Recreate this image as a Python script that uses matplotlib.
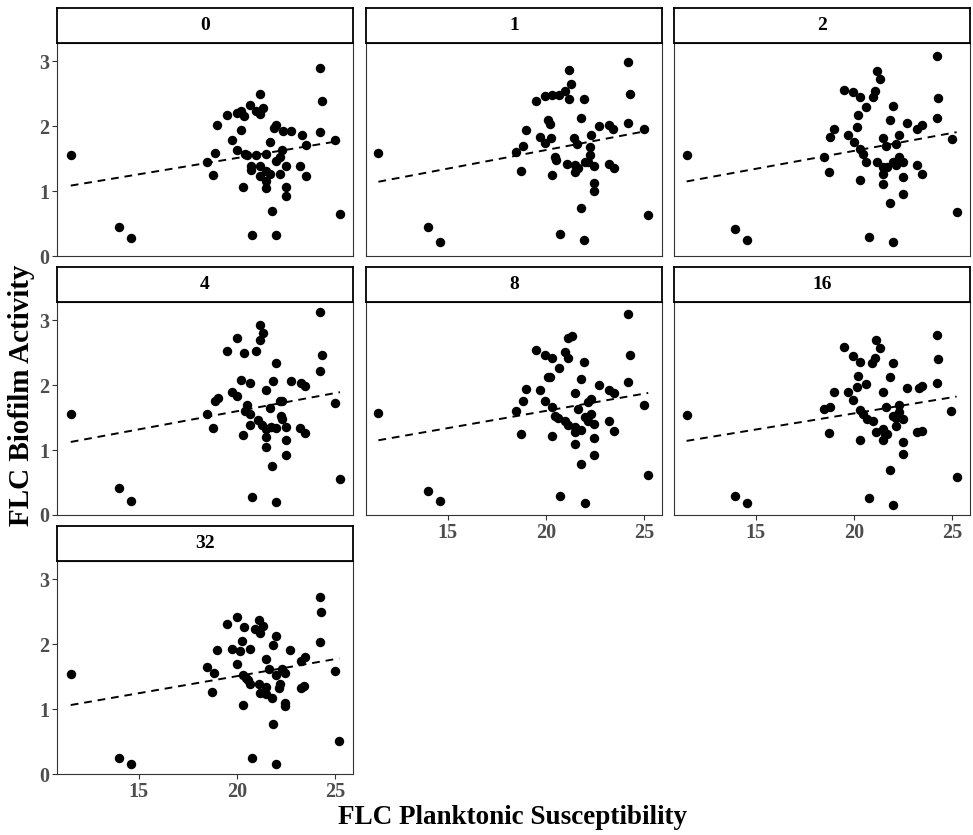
import numpy as np
import matplotlib.pyplot as plt

plt.rcParams['font.family'] = ['Liberation Serif', 'DejaVu Serif']
plt.rcParams['font.weight'] = 'bold'

# facet labels (FLC concentration)
panels = ['0', '1', '2', '4', '8', '16', '32']

# planktonic susceptibility (x) and biofilm activity (y) per facet
x0 = [11.55, 14.02, 14.61, 18.50, 18.77, 18.86, 19.01, 19.51, 19.77, 20.02, 20.19, 20.35, 20.19, 20.02,
      20.32, 20.40, 20.52, 20.66, 20.69, 20.69, 20.78, 20.99, 21.16, 20.99, 21.16, 21.33, 21.16, 21.16,
      21.50, 21.47, 21.47, 21.47, 21.67, 21.70, 21.80, 21.87, 21.97, 22.00, 21.97, 22.17, 22.17, 22.29,
      22.34, 22.76, 22.48, 22.48, 22.48, 23.23, 23.30, 23.49, 23.49, 24.23, 24.31, 24.23, 24.98, 25.24]
y0 = [1.55, 0.45, 0.28, 1.45, 1.24, 1.58, 2.02, 2.17, 1.78, 2.20, 2.23, 2.15, 1.94, 1.63,
      1.06, 1.57, 1.56, 2.32, 1.39, 1.33, 0.33, 1.55, 2.50, 2.24, 2.19, 2.28, 1.38, 1.23,
      1.57, 1.31, 1.16, 1.05, 1.76, 1.27, 0.69, 1.97, 2.02, 1.47, 0.32, 1.27, 1.52, 1.63,
      1.92, 1.93, 1.38, 1.07, 0.92, 1.38, 1.87, 1.71, 1.23, 2.90, 2.39, 1.91, 1.78, 0.65]

x1 = [11.48, 13.99, 14.60, 18.47, 18.71, 18.81, 18.98, 19.47, 19.72, 19.96, 19.97, 20.11, 20.19,
      20.31, 20.28, 20.31, 20.45, 20.53, 20.65, 20.73, 20.95, 21.16, 21.16, 21.29, 21.09, 21.41,
      21.46, 21.46, 21.59, 21.63, 21.80, 21.80, 21.93, 21.93, 21.96, 22.13, 22.22, 22.25, 22.30,
      22.44, 22.44, 22.44, 22.72, 23.23, 23.40, 23.23, 23.48, 24.19, 24.27, 24.19, 24.97, 25.20]
y1 = [1.58, 0.44, 0.22, 1.60, 1.31, 1.69, 1.94, 2.39, 1.84, 2.46, 1.74, 2.09, 2.03,
      2.48, 1.82, 1.24, 1.52, 1.48, 2.48, 0.34, 2.54, 2.87, 2.41, 2.65, 1.42, 1.82,
      1.40, 1.29, 1.72, 1.35, 2.12, 0.74, 2.41, 0.24, 1.45, 1.44, 1.68, 1.56, 1.86,
      1.39, 1.12, 1.00, 2.00, 2.01, 1.95, 1.42, 1.35, 2.99, 2.50, 2.05, 1.95, 0.63]

x2 = [11.49, 13.97, 14.58, 18.50, 18.73, 18.78, 18.97, 19.48, 19.71, 19.97, 19.98, 20.30, 20.19,
      20.14, 20.32, 20.30, 20.47, 20.63, 20.61, 20.74, 20.96, 21.06, 21.15, 21.32, 21.15, 21.49,
      21.49, 21.49, 21.49, 21.62, 21.67, 21.82, 21.82, 21.96, 21.96, 21.96, 22.16, 22.16, 22.30,
      22.30, 22.47, 22.47, 22.47, 22.72, 23.23, 23.48, 23.23, 23.48, 24.24, 24.29, 24.24, 25.00, 25.22]
y2 = [1.56, 0.42, 0.24, 1.53, 1.29, 1.83, 1.95, 2.56, 1.87, 2.53, 1.75, 2.45, 2.17,
      1.98, 1.17, 1.65, 1.57, 2.29, 1.45, 0.29, 2.45, 2.54, 2.85, 2.72, 1.44, 1.82,
      1.37, 1.27, 1.11, 1.69, 1.37, 2.09, 0.81, 2.31, 0.21, 1.44, 1.72, 1.40, 1.86,
      1.53, 1.44, 1.22, 0.96, 2.05, 1.95, 2.01, 1.40, 1.26, 3.08, 2.44, 2.13, 1.80, 0.68]

x4 = [11.55, 14.02, 14.61, 18.50, 18.77, 18.86, 19.02, 19.51, 19.73, 19.98, 20.02, 20.20, 20.35,
      20.32, 20.49, 20.66, 20.40, 20.66, 20.66, 20.74, 20.99, 21.16, 21.33, 21.16, 21.08, 21.25,
      21.50, 21.50, 21.50, 21.50, 21.67, 21.84, 21.80, 21.97, 21.97, 22.00, 21.75, 22.17, 22.29,
      22.22, 22.29, 22.48, 22.48, 22.48, 22.76, 23.27, 23.47, 23.23, 23.47, 24.23, 24.31, 24.23, 24.98, 25.24]
y4 = [1.55, 0.42, 0.21, 1.56, 1.34, 1.75, 1.80, 2.53, 1.89, 1.84, 2.72, 2.08, 2.50,
      1.23, 1.69, 2.04, 1.60, 1.56, 1.39, 0.28, 2.53, 2.92, 2.80, 2.69, 1.47, 1.39,
      1.93, 1.33, 1.20, 1.05, 1.65, 2.07, 0.75, 2.34, 0.20, 1.34, 1.35, 1.75, 1.75,
      1.53, 1.48, 1.36, 1.16, 0.93, 2.06, 2.03, 1.98, 1.34, 1.26, 3.12, 2.46, 2.21, 1.73, 0.55]

x8 = [11.48, 13.99, 14.60, 18.47, 18.71, 18.81, 18.98, 19.47, 19.72, 19.96, 19.97, 20.08, 20.22,
      20.31, 20.31, 20.31, 20.45, 20.65, 20.60, 20.73, 20.95, 21.12, 21.12, 21.32, 20.99, 21.12,
      21.46, 21.46, 21.46, 21.46, 21.63, 21.76, 21.80, 21.80, 21.93, 21.96, 21.96, 22.13, 22.30,
      22.13, 22.30, 22.44, 22.44, 22.44, 22.72, 23.23, 23.48, 23.23, 23.48, 24.19, 24.27, 24.19, 24.97, 25.20]
y8 = [1.57, 0.37, 0.22, 1.60, 1.25, 1.75, 1.94, 2.54, 1.92, 2.46, 1.75, 2.13, 2.12,
      2.41, 1.66, 1.21, 1.53, 2.26, 1.49, 0.29, 2.51, 2.41, 2.73, 2.75, 1.44, 1.38,
      1.88, 1.36, 1.28, 1.10, 1.63, 1.31, 2.09, 0.78, 2.35, 0.19, 1.51, 1.74, 1.79,
      1.45, 1.56, 1.40, 1.18, 0.93, 2.00, 1.93, 1.88, 1.44, 1.29, 3.09, 2.46, 2.05, 1.70, 0.62]

x16 = [11.49, 13.97, 14.58, 18.46, 18.78, 18.72, 18.97, 19.48, 19.71, 19.97, 19.97, 20.13, 20.22,
       20.32, 20.30, 20.30, 20.47, 20.64, 20.63, 20.74, 20.93, 21.05, 21.11, 21.32, 20.96, 21.13,
       21.49, 21.49, 21.57, 21.49, 21.62, 21.70, 21.82, 21.82, 21.96, 21.96, 21.96, 22.16, 22.30,
       22.16, 22.30, 22.47, 22.47, 22.47, 22.72, 23.31, 23.48, 23.23, 23.48, 24.21, 24.29, 24.24, 24.95, 25.22]
y16 = [1.54, 0.30, 0.19, 1.64, 1.66, 1.27, 1.90, 2.59, 1.90, 2.45, 1.77, 1.97, 2.14,
       2.36, 1.61, 1.16, 1.55, 1.48, 2.01, 0.26, 2.34, 2.41, 2.70, 2.57, 1.44, 1.28,
       1.89, 1.33, 1.24, 1.16, 1.67, 1.24, 2.12, 0.69, 2.34, 0.15, 1.52, 1.50, 1.70,
       1.37, 1.58, 1.48, 1.13, 0.94, 1.95, 1.95, 1.99, 1.28, 1.30, 2.77, 2.40, 2.03, 1.60, 0.58]

x32 = [11.55, 14.02, 14.61, 18.48, 18.84, 18.74, 18.99, 19.49, 19.73, 20.00, 20.00, 20.15, 20.25,
       20.34, 20.32, 20.32, 20.47, 20.64, 20.64, 20.56, 20.74, 20.93, 21.14, 21.18, 21.31, 21.14,
       21.18, 21.48, 21.48, 21.48, 21.65, 21.77, 21.82, 21.82, 21.97, 21.97, 21.97, 22.15, 22.21,
       22.29, 22.46, 22.46, 22.46, 22.71, 23.25, 23.42, 23.28, 23.45, 24.21, 24.29, 24.21, 24.97, 25.20]
y32 = [1.54, 0.25, 0.15, 1.65, 1.56, 1.26, 1.91, 2.31, 1.93, 2.42, 1.70, 1.89, 2.05,
       2.26, 1.52, 1.06, 1.48, 1.93, 1.39, 1.44, 0.25, 2.23, 2.37, 2.17, 2.28, 1.39,
       1.24, 1.77, 1.34, 1.23, 1.62, 1.17, 1.98, 0.77, 2.13, 1.52, 0.16, 1.32, 1.38,
       1.62, 1.56, 1.10, 1.04, 1.91, 1.33, 1.35, 1.74, 1.80, 2.72, 2.49, 2.03, 1.59, 0.51]

panel_x = [x0, x1, x2, x4, x8, x16, x32]
panel_y = [y0, y1, y2, y4, y8, y16, y32]

x_ticks = [15, 20, 25]
y_ticks = [0, 1, 2, 3]

# layout in pixels
W, H = 973, 835
col_left = [57, 366, 674]
panel_w = 296
panel_top = [43, 302, 561]
panel_h = 213
strip_h = 35
tick_col = '#4D4D4D'


def frac(l, t, w, h):
    return [l / W, 1 - (t + h) / H, w / W, h / H]


fig = plt.figure(figsize=(W / 100, H / 100), dpi=100)

# lowest panel in each column gets the x axis
bottom_of_col = {0: 6, 1: 4, 2: 5}

for i, lab in enumerate(panels):
    r, c = divmod(i, 3)
    ax = fig.add_axes(frac(col_left[c], panel_top[r], panel_w, panel_h))
    xs = np.array(panel_x[i])
    ys = np.array(panel_y[i])
    ax.plot(xs, ys, 'o', color='black', ms=6.8, mec='none', zorder=3)

    # linear fit, dashed
    slope, icpt = np.polyfit(xs, ys, 1)
    xl = np.array([xs.min(), xs.max()])
    ax.plot(xl, icpt + slope * xl, color='black', lw=1.4, ls=(0, (4, 3)), zorder=2)

    ax.set_xlim(10.85, 25.9)
    ax.set_ylim(0, 3.28)
    ax.set_xticks(x_ticks)
    ax.set_yticks(y_ticks)
    show_x = bottom_of_col[c] == i
    show_y = c == 0
    ax.tick_params(axis='x', bottom=show_x, labelbottom=show_x, length=3.6, width=0.8,
                   color='#333333', labelsize=14.5, labelcolor=tick_col, pad=2)
    ax.tick_params(axis='y', left=show_y, labelleft=show_y, length=3.6, width=0.8,
                   color='#333333', labelsize=14.5, labelcolor=tick_col, pad=2)
    for lbl in ax.get_xticklabels() + ax.get_yticklabels():
        lbl.set_fontweight('bold')
    for s in ax.spines.values():
        s.set_color('#333333')
        s.set_linewidth(0.8)

    # facet strip
    sax = fig.add_axes(frac(col_left[c], panel_top[r] - strip_h, panel_w, strip_h))
    sax.set_xticks([])
    sax.set_yticks([])
    for s in sax.spines.values():
        s.set_color('black')
        s.set_linewidth(1.3)
    sax.text(0.5, 0.5, lab, ha='center', va='center', fontsize=14, fontweight='bold',
             transform=sax.transAxes)

fig.text(512 / W, 1 - 817 / H, 'FLC Planktonic Susceptibility', ha='center', va='center',
         fontsize=19.5, fontweight='bold')
fig.text(22 / W, 1 - 395 / H, 'FLC Biofilm Activity', ha='center', va='center',
         rotation=90, fontsize=21, fontweight='bold')

fig.savefig('out.png', dpi=100)
